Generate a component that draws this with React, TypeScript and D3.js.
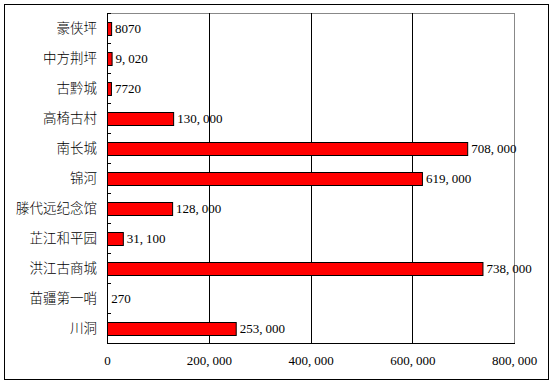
import * as d3 from "d3";
import { useEffect, useRef } from "react";

const categories = ["豪侠坪", "中方荆坪", "古黔城", "高椅古村", "南长城", "锦河", "滕代远纪念馆", "芷江和平园", "洪江古商城", "苗疆第一哨", "川洞"];
const values = [8070, 9020, 7720, 130000, 708000, 619000, 128000, 31100, 738000, 270, 253000];
const valueLabels = ["8070", "9,020", "7720", "130,000", "708,000", "619,000", "128,000", "31,100", "738,000", "270", "253,000"];
const xTicks = [0, 200000, 400000, 600000, 800000];

const numFont = "'Liberation Serif', 'DejaVu Serif', serif";

// comma in the original font is wide, give the part after it a small offset
function SpacedNumber({ text, ...rest }) {
    const parts = text.split(",");
    return (
        <text {...rest}>
            {parts.map((p, i) => (
                <tspan key={i} dx={i > 0 ? 3 : 0}>{i < parts.length - 1 ? p + "," : p}</tspan>
            ))}
        </text>
    );
}

export default function App() {
    const axisBottomRef = useRef(null);

    const width = 555;
    const height = 385;
    const margin = { top: 13, right: 41, bottom: 42, left: 107 };
    const innerW = width - margin.left - margin.right;
    const innerH = height - margin.top - margin.bottom;

    const scaleX = d3.scaleLinear().domain([0, 800000]).range([0, innerW]);
    const scaleY = d3.scaleBand().domain(categories).range([0, innerH]).paddingInner(0.58).paddingOuter(0.29);
    const fmt = d3.format(",");

    useEffect(() => {
        if (axisBottomRef.current) {
            const g = d3.select(axisBottomRef.current);
            g.call(d3.axisBottom(scaleX).tickValues(xTicks).tickSize(0).tickPadding(13).tickFormat((d) => fmt(d)));
            g.select(".domain").remove();
            g.selectAll("text")
                .attr("font-family", numFont)
                .attr("font-size", 13)
                .attr("fill", "#000")
                .each(function () {
                    const t = d3.select(this);
                    const parts = t.text().split(",");
                    if (parts.length < 2) return;
                    t.text(null);
                    parts.forEach((p, i) => {
                        t.append("tspan").attr("dx", i > 0 ? 3 : 0).text(i < parts.length - 1 ? p + "," : p);
                    });
                });
        }
    }, []);

    const step = innerH / categories.length;

    return (
        <div style={{ position: "absolute", left: 0, top: 0 }}>
            <svg width={width} height={height} style={{ display: "block", background: "#fff" }}>
                <rect x={4.5} y={4.5} width={544} height={375} fill="#fff" stroke="#000" />
                <g transform={`translate(${margin.left}, ${margin.top})`}>
                    {/* plot frame */}
                    <line x1={0} x2={innerW} y1={0.5} y2={0.5} stroke="#888" />
                    <line x1={innerW + 0.5} x2={innerW + 0.5} y1={0} y2={innerH} stroke="#888" />
                    {xTicks.slice(1, -1).map((t) => (
                        <line key={t} x1={Math.round(scaleX(t)) + 0.5} x2={Math.round(scaleX(t)) + 0.5} y1={0} y2={innerH} stroke="#000" />
                    ))}
                    {d3.range(categories.length + 1).map((i) => (
                        <line key={`tk-${i}`} x1={0} x2={4} y1={Math.round(i * step) + 0.5} y2={Math.round(i * step) + 0.5} stroke="#000" />
                    ))}
                    {categories.map((c, i) => (
                        <g key={c}>
                            {values[i] > 1000 && (
                                <rect
                                    x={0.5}
                                    y={Math.round(scaleY(c)) + 0.5}
                                    width={scaleX(values[i])}
                                    height={Math.round(scaleY.bandwidth())}
                                    fill="#FF0000"
                                    stroke="#000"
                                />
                            )}
                            <text
                                x={-10}
                                y={scaleY(c) + scaleY.bandwidth() / 2}
                                dy="0.35em"
                                textAnchor="end"
                                fontFamily="'Noto Sans CJK SC', sans-serif"
                                fontSize={13.5}
                                fontWeight={300}
                            >{c}</text>
                            <SpacedNumber
                                text={valueLabels[i]}
                                x={scaleX(values[i]) + 4}
                                y={scaleY(c) + scaleY.bandwidth() / 2}
                                dy="0.35em"
                                fontFamily={numFont}
                                fontSize={13}
                            />
                        </g>
                    ))}
                    <line x1={0.5} x2={0.5} y1={0} y2={innerH} stroke="#000" />
                    <line x1={0} x2={innerW + 1} y1={innerH + 0.5} y2={innerH + 0.5} stroke="#000" />
                    <g ref={axisBottomRef} transform={`translate(0, ${innerH})`} />
                </g>
            </svg>
        </div>
    );
}
